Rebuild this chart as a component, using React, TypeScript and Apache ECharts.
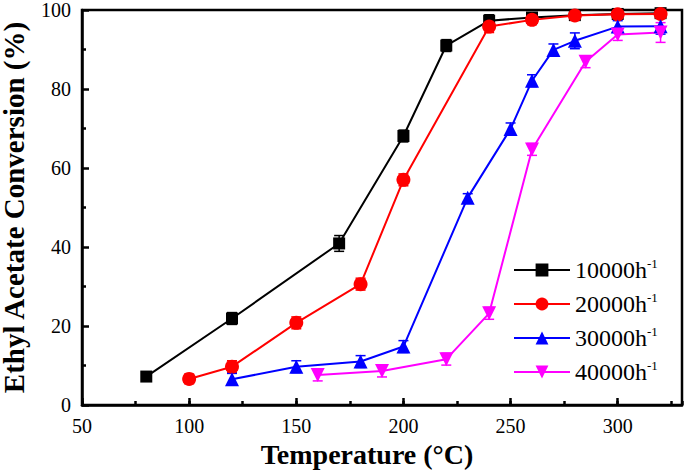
import React, { useEffect, useRef } from "react";
import * as echarts from "echarts";

const FONT = "Liberation Serif, Times New Roman, serif";

const seriesNames = ["10000", "20000", "30000", "40000"];
const seriesColors = ["#000000", "#ff0000", "#0000ff", "#ff00ff"];

const tempA = [80, 120, 170, 200, 220, 240, 260, 280, 300, 320];
const convA = [7.2, 21.9, 40.9, 68.1, 91.0, 97.3, 98.1, 98.7, 99.0, 99.2];
const errA = [1.0, 1.5, 2.0, 1.5, 1.5, 1.5, 1.0, 1.0, 1.0, 1.0];

const tempB = [100, 120, 150, 180, 200, 240, 260, 280, 300, 320];
const convB = [6.6, 9.7, 20.8, 30.6, 57.0, 95.8, 97.5, 98.6, 98.9, 99.0];
const errB = [1.2, 1.5, 1.5, 1.5, 1.5, 1.5, 1.2, 1.0, 1.0, 1.0];

const tempC = [120, 150, 180, 200, 230, 250, 260, 270, 280, 300, 320];
const convC = [6.5, 9.7, 11.0, 14.8, 52.5, 69.9, 82.1, 89.9, 92.2, 95.8, 95.9];
const errC = [1.5, 1.5, 1.5, 1.5, 1.0, 1.5, 1.5, 1.5, 2.0, 1.5, 2.0];

const tempD = [160, 190, 220, 240, 260, 285, 300, 320];
const convD = [7.6, 8.6, 11.6, 23.2, 64.7, 86.9, 93.8, 94.3];
const errD = [1.5, 1.5, 1.5, 1.5, 1.5, 1.5, 1.5, 2.5];

const symbols = ["rect", "circle", "triangle", "triangle"];
const rotations = [0, 0, 0, 180];

export default function App() {
  const ref = useRef<HTMLDivElement>(null);
  useEffect(() => {
    if (!ref.current) return;
    const chart = echarts.init(ref.current, null, { renderer: "svg" });
    const temps = [tempA, tempB, tempC, tempD];
    const convs = [convA, convB, convC, convD];
    const errs = [errA, errB, errC, errD];

    const lineSeries = seriesNames.map((name, i) => ({
      name,
      type: "line",
      xAxisIndex: 0,
      yAxisIndex: 0,
      data: temps[i].map((t, j) => [t, convs[i][j]]),
      symbol: symbols[i],
      symbolRotate: rotations[i],
      symbolSize: i === 0 ? 12 : 14,
      showSymbol: true,
      lineStyle: { color: seriesColors[i], width: 2 },
      itemStyle: { color: seriesColors[i] },
      z: 3,
    }));

    const errSeries = seriesNames.map((name, i) => ({
      name: "err" + name,
      type: "custom",
      xAxisIndex: 0,
      yAxisIndex: 0,
      data: temps[i].map((t, j) => [t, convs[i][j] - errs[i][j], convs[i][j] + errs[i][j]]),
      z: 2,
      renderItem: (params: any, api: any) => {
        const x = api.value(0);
        const p1 = api.coord([x, api.value(2)]);
        const p2 = api.coord([x, api.value(1)]);
        const w = 5;
        const style = { stroke: seriesColors[i], lineWidth: 1.5 };
        return {
          type: "group",
          children: [
            { type: "line", shape: { x1: p1[0], y1: p1[1], x2: p2[0], y2: p2[1] }, style },
            { type: "line", shape: { x1: p1[0] - w, y1: p1[1], x2: p1[0] + w, y2: p1[1] }, style },
            { type: "line", shape: { x1: p2[0] - w, y1: p2[1], x2: p2[0] + w, y2: p2[1] }, style },
          ],
        };
      },
    }));

    chart.setOption({
      animation: false,
      backgroundColor: "#ffffff",
      textStyle: { fontFamily: FONT },
      grid: {
        left: 82,
        right: 3,
        top: 10,
        bottom: 67,
        outerBoundsMode: "none",
        show: true,
        borderColor: "#000",
        borderWidth: 2.5,
        backgroundColor: "transparent",
      },
      legend: {
        data: seriesNames,
        orient: "vertical",
        left: 508,
        top: 252,
        itemWidth: 56,
        itemHeight: 16,
        itemGap: 9,
        formatter: (name: string) => `{a|${name}h}{b|-1}`,
        textStyle: {
          fontFamily: FONT,
          fontSize: 24,
          color: "#000",
          rich: {
            a: { fontFamily: FONT, fontSize: 24, color: "#000", lineHeight: 26 },
            b: { fontFamily: FONT, fontSize: 13, color: "#000", verticalAlign: "top", lineHeight: 26 },
          },
        },
      },
      xAxis: [
        {
          type: "value",
          min: 50,
          max: 330,
          interval: 50,
          name: "Temperature (°C)",
          nameLocation: "middle",
          nameGap: 33,
          nameTextStyle: {
            fontFamily: FONT,
            fontSize: 28,
            fontWeight: "bold",
            color: "#000",
            padding: [0, 30, 0, 0],
          },
          axisLine: { show: true, lineStyle: { color: "#000", width: 2.5 } },
          axisTick: { show: true, inside: true, length: 7, lineStyle: { color: "#000", width: 2.5 } },
          axisLabel: {
            fontFamily: FONT,
            fontSize: 20,
            color: "#000",
            margin: 11,
            showMaxLabel: false,
          },
          splitLine: { show: false },
        },
        {
          type: "value",
          min: 50,
          max: 330,
          interval: 25,
          position: "bottom",
          axisLine: { show: false },
          axisTick: { show: true, inside: true, length: 4, lineStyle: { color: "#000", width: 2.5 } },
          axisLabel: { show: false },
          splitLine: { show: false },
        },
      ],
      yAxis: {
        type: "value",
        min: 0,
        max: 100,
        interval: 20,
        name: "Ethyl Acetate Conversion (%)",
        nameLocation: "middle",
        nameGap: 54,
        nameTextStyle: { fontFamily: FONT, fontSize: 29, fontWeight: "bold", color: "#000" },
        axisLine: { show: true, lineStyle: { color: "#000", width: 2.5 } },
        axisTick: { show: true, inside: true, length: 7, lineStyle: { color: "#000", width: 2.5 } },
        minorTick: { show: true, splitNumber: 2, length: 4, lineStyle: { color: "#000", width: 2.5 } },
        axisLabel: {
          fontFamily: FONT,
          fontSize: 20,
          color: "#000",
          margin: 11,
        },
        splitLine: { show: false },
        minorSplitLine: { show: false },
      },
      series: [...errSeries, ...lineSeries],
    });
    return () => chart.dispose();
  }, []);
  return <div ref={ref} style={{ width: 685, height: 472, position: "absolute", left: 0, top: 0 }} />;
}
